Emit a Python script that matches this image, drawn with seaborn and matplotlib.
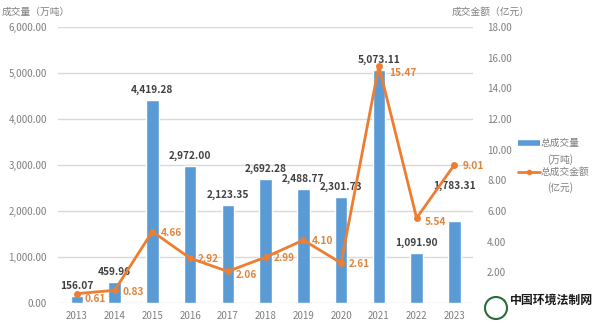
import numpy as np
import pandas as pd
import matplotlib
matplotlib.use("Agg")
import matplotlib.pyplot as plt
from matplotlib.patches import Ellipse
from matplotlib.lines import Line2D
import seaborn as sns

years = ["2013", "2014", "2015", "2016", "2017", "2018", "2019", "2020", "2021", "2022", "2023"]
volume = [156.07, 459.96, 4419.28, 2972.00, 2123.35, 2692.28, 2488.77, 2301.73, 5073.11, 1091.90, 1783.31]
amount = [0.61, 0.83, 4.66, 2.92, 2.06, 2.99, 4.10, 2.61, 15.47, 5.54, 9.01]
left_ticks = [0, 1000, 2000, 3000, 4000, 5000, 6000]
right_ticks = [0, 2, 4, 6, 8, 10, 12, 14, 16, 18]

sns.set_theme(style="white")
plt.rcParams["font.family"] = ["Noto Sans CJK SC", "DejaVu Sans"]

BLUE = "#5B9BD5"
ORANGE = "#ED7D31"
ORANGE_T = "#E0843C"
GRAY = "#7F7F7F"
DARK = "#404040"

df = pd.DataFrame({"year": years, "volume": volume, "amount": amount,
                   "pos": np.arange(len(years))})

W, H = 600, 329
fig = plt.figure(figsize=(W / 100, H / 100), dpi=100)
ax = fig.add_axes([0.0967, 0.079, 0.692, 0.839])

sns.barplot(data=df, x="year", y="volume", color=BLUE, width=0.33,
            saturation=1, ax=ax, zorder=2)
ax.set_xlim(-0.5, len(years) - 0.5)
ax.set_ylim(0, 6000)
ax.set_yticks(left_ticks)
ax.set_yticklabels([f"{v:,.2f}" for v in left_ticks])
ax.set_xlabel("")
ax.set_ylabel("")
ax.grid(axis="y", color="#D9D9D9", linewidth=1.0, zorder=0)
ax.set_axisbelow(True)
for s in ax.spines.values():
    s.set_visible(False)
ax.tick_params(axis="both", length=0, labelsize=7, labelcolor=GRAY)
ax.tick_params(axis="y", pad=8)
ax.tick_params(axis="x", pad=6)

ax2 = ax.twinx()
sns.lineplot(data=df, x="pos", y="amount", color=ORANGE, linewidth=2.0,
             marker="o", markersize=5, markeredgewidth=0, ax=ax2, zorder=3)
ax2.set_ylim(0, 18)
ax2.set_yticks(right_ticks)
ax2.set_yticklabels([f"{v:.2f}" for v in right_ticks])
ax2.set_xlabel("")
ax2.set_ylabel("")
for s in ax2.spines.values():
    s.set_visible(False)
ax2.tick_params(axis="y", length=0, labelsize=7, labelcolor=GRAY, pad=10)
ax2.set_xlim(-0.5, len(years) - 0.5)

# bar value labels
bar_offsets = {10: 30}
for i, v in enumerate(volume):
    off = bar_offsets.get(i, 5)
    ax.annotate(f"{v:,.2f}", (i, v), xytext=(0, off), textcoords="offset pixels",
                ha="center", va="bottom", fontsize=7.3, fontweight="bold",
                color=DARK, zorder=5)

# line value labels
line_offsets = {0: (8, -5), 1: (8, -2), 8: (10, -7), 9: (8, -4), 4: (8, -4)}
for i, v in enumerate(amount):
    dx, dy = line_offsets.get(i, (8, -1))
    ax2.annotate(f"{v:.2f}", (i, v), xytext=(dx, dy), textcoords="offset pixels",
                 ha="left", va="center", fontsize=7.3, fontweight="bold",
                 color=ORANGE_T, zorder=5)

# axis titles
fig.text(0.003, 0.963, "成交量（万吨）", fontsize=7, color=GRAY, ha="left", va="center")
fig.text(0.752, 0.963, "成交金额（亿元）", fontsize=7, color=GRAY, ha="left", va="center")

# legend (drawn manually so the key sits on the first text line)
def fx(px):
    return px / W

def fy(py):
    return 1 - py / H

fig.add_artist(Line2D([fx(518), fx(540)], [fy(143), fy(143)], color=BLUE,
                      linewidth=4, transform=fig.transFigure, solid_capstyle="butt"))
fig.text(fx(541), fy(143), "总成交量", fontsize=7, color=GRAY, ha="left", va="center")
fig.text(fx(560), fy(160), "(万吨)", fontsize=7, color=GRAY, ha="center", va="center")
fig.add_artist(Line2D([fx(518), fx(540)], [fy(172), fy(172)], color=ORANGE,
                      linewidth=2, transform=fig.transFigure))
fig.add_artist(Line2D([fx(529)], [fy(172)], color=ORANGE, marker="o", markersize=4,
                      markeredgewidth=0, transform=fig.transFigure))
fig.text(fx(541), fy(172), "总成交金额", fontsize=7, color=GRAY, ha="left", va="center")
fig.text(fx(560), fy(188), "(亿元)", fontsize=7, color=GRAY, ha="center", va="center")

# watermark
logo = Ellipse((fx(496), fy(308)), 22 / W, 22 / H, transform=fig.transFigure,
               facecolor="white", edgecolor="#2E6B3A", linewidth=1.5, zorder=10)
fig.add_artist(logo)
fig.text(fx(510), fy(300), "中国环境法制网", fontsize=8.6, fontweight="bold",
         color="#1A1A1A", ha="left", va="center", zorder=11)

fig.savefig("out.png", dpi=100)
